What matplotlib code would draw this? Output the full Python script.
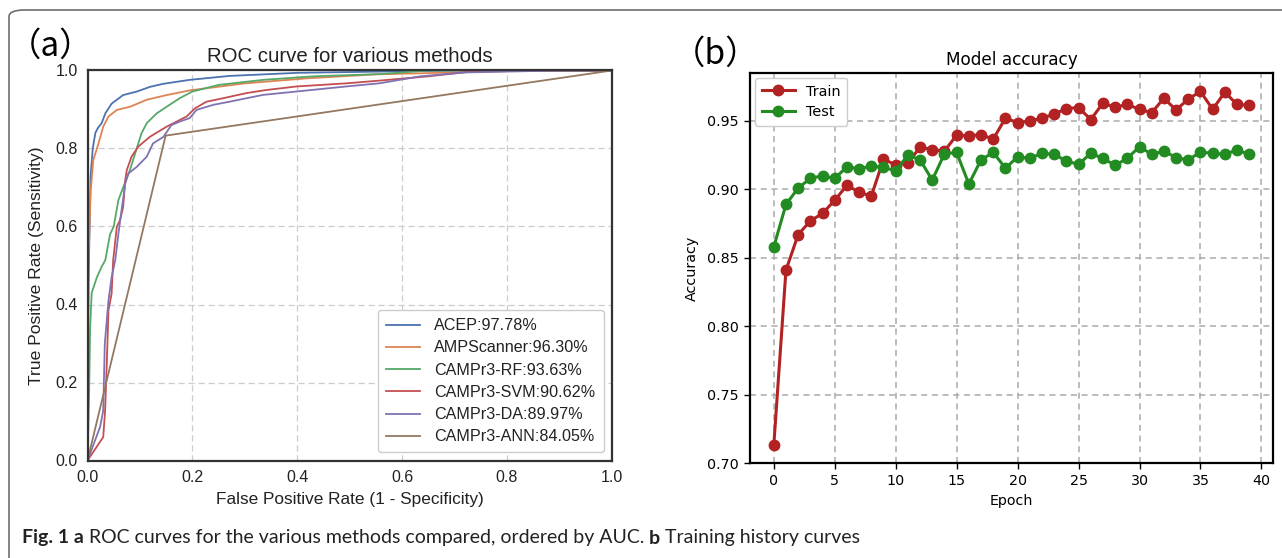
import matplotlib
matplotlib.use("Agg")
import matplotlib.pyplot as plt
from matplotlib.patches import FancyBboxPatch
import numpy as np

# ---------------- data ----------------
roc_labels = ["ACEP:97.78%", "AMPScanner:96.30%", "CAMPr3-RF:93.63%",
              "CAMPr3-SVM:90.62%", "CAMPr3-DA:89.97%", "CAMPr3-ANN:84.05%"]
roc_colors = ["#4c72b0", "#dd8452", "#55a868", "#c44e52", "#8172b2", "#937860"]

acep_fpr = [0, 0.002, 0.004, 0.006, 0.010, 0.015, 0.020, 0.027, 0.034, 0.046, 0.068, 0.094, 0.119, 0.145, 0.195, 0.27, 0.40, 0.55, 0.70, 1.0]
acep_tpr = [0, 0.45, 0.60, 0.73, 0.80, 0.84, 0.853, 0.865, 0.89, 0.915, 0.937, 0.946, 0.958, 0.966, 0.976, 0.986, 0.994, 0.997, 1.0, 1.0]

amps_fpr = [0, 0.001, 0.002, 0.006, 0.011, 0.021, 0.030, 0.040, 0.056, 0.081, 0.113, 0.151, 0.195, 0.30, 0.42, 0.55, 0.70, 0.85, 1.0]
amps_tpr = [0, 0.35, 0.52, 0.69, 0.77, 0.813, 0.856, 0.882, 0.899, 0.907, 0.925, 0.937, 0.949, 0.967, 0.980, 0.990, 0.995, 1.0, 1.0]

rf_fpr = [0, 0.003, 0.005, 0.008, 0.018, 0.027, 0.034, 0.043, 0.050, 0.059, 0.068, 0.081, 0.091, 0.103, 0.113, 0.132, 0.151, 0.176, 0.20, 0.25, 0.335, 0.43, 0.56, 0.65, 1.0]
rf_tpr = [0, 0.17, 0.34, 0.43, 0.47, 0.497, 0.514, 0.58, 0.60, 0.668, 0.70, 0.745, 0.788, 0.839, 0.865, 0.89, 0.907, 0.929, 0.946, 0.963, 0.976, 0.985, 0.991, 1.0, 1.0]

svm_fpr = [0, 0.030, 0.0336, 0.037, 0.040, 0.046, 0.049, 0.056, 0.062, 0.068, 0.072, 0.075, 0.084, 0.097, 0.119, 0.151, 0.17, 0.189, 0.205, 0.227, 0.259, 0.303, 0.341, 0.398, 0.493, 0.556, 0.65, 0.75, 1.0]
svm_tpr = [0, 0.06, 0.128, 0.257, 0.385, 0.428, 0.514, 0.60, 0.616, 0.65, 0.719, 0.745, 0.779, 0.805, 0.83, 0.856, 0.869, 0.882, 0.903, 0.92, 0.929, 0.942, 0.95, 0.959, 0.967, 0.974, 0.985, 1.0, 1.0]

da_fpr = [0, 0.024, 0.030, 0.033, 0.040, 0.046, 0.053, 0.059, 0.065, 0.072, 0.078, 0.094, 0.113, 0.125, 0.145, 0.16, 0.176, 0.195, 0.208, 0.24, 0.271, 0.335, 0.398, 0.493, 0.556, 0.635, 0.72, 0.9, 1.0]
da_tpr = [0, 0.086, 0.128, 0.30, 0.41, 0.47, 0.514, 0.582, 0.642, 0.71, 0.736, 0.753, 0.779, 0.813, 0.83, 0.86, 0.869, 0.878, 0.899, 0.912, 0.92, 0.9375, 0.946, 0.959, 0.967, 0.985, 0.995, 1.0, 1.0]

ann_fpr = [0, 0.149, 1.0]
ann_tpr = [0, 0.833, 1.0]

roc_fprs = [acep_fpr, amps_fpr, rf_fpr, svm_fpr, da_fpr, ann_fpr]
roc_tprs = [acep_tpr, amps_tpr, rf_tpr, svm_tpr, da_tpr, ann_tpr]
roc_ticks = [0.0, 0.2, 0.4, 0.6, 0.8, 1.0]

epochs = list(range(40))
train_acc = [0.713, 0.841, 0.867, 0.877, 0.8825, 0.892, 0.903, 0.898, 0.895, 0.922,
             0.918, 0.919, 0.931, 0.929, 0.928, 0.9396, 0.939, 0.940, 0.9367, 0.952,
             0.9488, 0.950, 0.952, 0.955, 0.959, 0.9598, 0.951, 0.963, 0.960, 0.962,
             0.9585, 0.956, 0.9666, 0.958, 0.966, 0.9715, 0.9585, 0.971, 0.962, 0.9615]
test_acc = [0.858, 0.889, 0.901, 0.908, 0.910, 0.908, 0.9165, 0.915, 0.917, 0.916,
            0.9136, 0.925, 0.9216, 0.9068, 0.926, 0.927, 0.9039, 0.9216, 0.927, 0.9155,
            0.9237, 0.9227, 0.9263, 0.9256, 0.9207, 0.9183, 0.9263, 0.9227, 0.9176, 0.9227,
            0.9312, 0.9256, 0.928, 0.9232, 0.9215, 0.9273, 0.9263, 0.9256, 0.9288, 0.9256]
acc_yticks = [0.70, 0.75, 0.80, 0.85, 0.90, 0.95]
acc_xticks = [0, 5, 10, 15, 20, 25, 30, 35, 40]

# ---------------- figure ----------------
W, H = 1282, 558
fig = plt.figure(figsize=(W / 100, H / 100), dpi=100)
fig.patch.set_facecolor("white")

def ax_rect(l, t, r, b):
    return [l / W, (H - b) / H, (r - l) / W, (b - t) / H]

# outer frame
frame = FancyBboxPatch((9 / W, -0.2), 1.3, (H - 10) / H + 0.2,
                       boxstyle="round,pad=0,rounding_size=0.012",
                       transform=fig.transFigure, fill=False,
                       edgecolor="#6e6e6e", linewidth=1.2, clip_on=False)
fig.patches.append(frame)

# ---------------- panel (a) ----------------
fa = ["Liberation Sans", "DejaVu Sans"]
ax1 = fig.add_axes(ax_rect(87.5, 70.5, 611.7, 460.5))
for f, t, c, lab in zip(roc_fprs, roc_tprs, roc_colors, roc_labels):
    ax1.plot(f, t, color=c, lw=1.3, label=lab)
ax1.set_xlim(0, 1)
ax1.set_ylim(0, 1)
ax1.set_xticks(roc_ticks)
ax1.set_yticks(roc_ticks)
ax1.set_xticklabels([f"{v:.1f}" for v in roc_ticks], fontfamily=fa, fontsize=11.5, color="#222222")
ax1.set_yticklabels([f"{v:.1f}" for v in roc_ticks], fontfamily=fa, fontsize=11.5, color="#222222")
ax1.tick_params(length=0, pad=7)
ax1.grid(True, color="#cccccc", linestyle=(0, (5, 3)), lw=0.9)
ax1.set_axisbelow(True)
for s in ax1.spines.values():
    s.set_color("#333333")
    s.set_linewidth(1.6)
ax1.set_xlabel("False Positive Rate (1 - Specificity)", fontfamily=fa, fontsize=12.4, color="#222222", labelpad=5)
ax1.set_ylabel("True Positive Rate (Sensitivity)", fontfamily=fa, fontsize=12.6, color="#222222", labelpad=8)
ax1.set_title("ROC curve for various methods", fontfamily=fa, fontsize=14.7, color="#222222", pad=6)
leg1 = ax1.legend(loc="lower right", prop={"family": fa, "size": 11.6}, frameon=True,
                  fancybox=True, edgecolor="#cccccc", framealpha=1.0,
                  handlelength=2.1, handletextpad=0.9, borderpad=0.5, labelspacing=0.45,
                  borderaxespad=0.5)
for t in leg1.get_texts():
    t.set_color("#222222")

# ---------------- panel (b) ----------------
fb = ["DejaVu Sans"]
ax2 = fig.add_axes(ax_rect(750, 73, 1273, 463.3))
ax2.plot(epochs, train_acc, color="#b22222", marker="o", markersize=7.5, lw=2.2, label="Train")
ax2.plot(epochs, test_acc, color="#228b22", marker="o", markersize=7.5, lw=2.2, label="Test")
ax2.set_xlim(-1.95, 40.95)
ax2.set_ylim(0.700, 0.985)
ax2.set_xticks(acc_xticks)
ax2.set_yticks(acc_yticks)
ax2.set_xticklabels([str(v) for v in acc_xticks], fontfamily=fb, fontsize=10.3)
ax2.set_yticklabels([f"{v:.2f}" for v in acc_yticks], fontfamily=fb, fontsize=10.3)
ax2.tick_params(length=4.5, width=1, pad=3.5)
ax2.grid(True, color="#aaaaaa", linestyle=(0, (4, 3)), lw=1.1)
ax2.set_axisbelow(True)
for s in ax2.spines.values():
    s.set_color("black")
    s.set_linewidth(1.6)
ax2.set_xlabel("Epoch", fontfamily=fb, fontsize=10.3, labelpad=4)
ax2.set_ylabel("Accuracy", fontfamily=fb, fontsize=10.3, labelpad=6)
ax2.set_title("Model accuracy", fontfamily=fb, fontsize=12.2, pad=6)
ax2.legend(loc="upper left", prop={"family": fb, "size": 10.4}, frameon=True,
           fancybox=True, edgecolor="#cccccc", framealpha=1.0,
           handlelength=2.3, borderpad=0.45, labelspacing=0.45, borderaxespad=0.35)

# ---------------- panel letters ----------------
cjk = ["Noto Sans CJK SC", "DejaVu Sans"]
fig.text(8 / W, 1 - 46 / H, "（a）", fontfamily=cjk, fontsize=24, va="center", ha="left")
fig.text(672 / W, 1 - 54 / H, "（b）", fontfamily=cjk, fontsize=24, va="center", ha="left")

# ---------------- caption ----------------
cap_parts = [("Fig. 1 a", "bold"),
             (" ROC curves for the various methods compared, ordered by AUC. ", "normal"),
             ("b", "bold"),
             (" Training history curves", "normal")]
fig.canvas.draw()
renderer = fig.canvas.get_renderer()
xpos = 22
for txt, wgt in cap_parts:
    t = fig.text(xpos / W, 1 - 538 / H, txt, fontfamily=["Lato", "DejaVu Sans"],
                 fontsize=14.0, fontweight=wgt, va="center", ha="left", color="#222222")
    bb = t.get_window_extent(renderer=renderer)
    xpos += bb.width

fig.savefig("out.png", dpi=100, facecolor="white")
